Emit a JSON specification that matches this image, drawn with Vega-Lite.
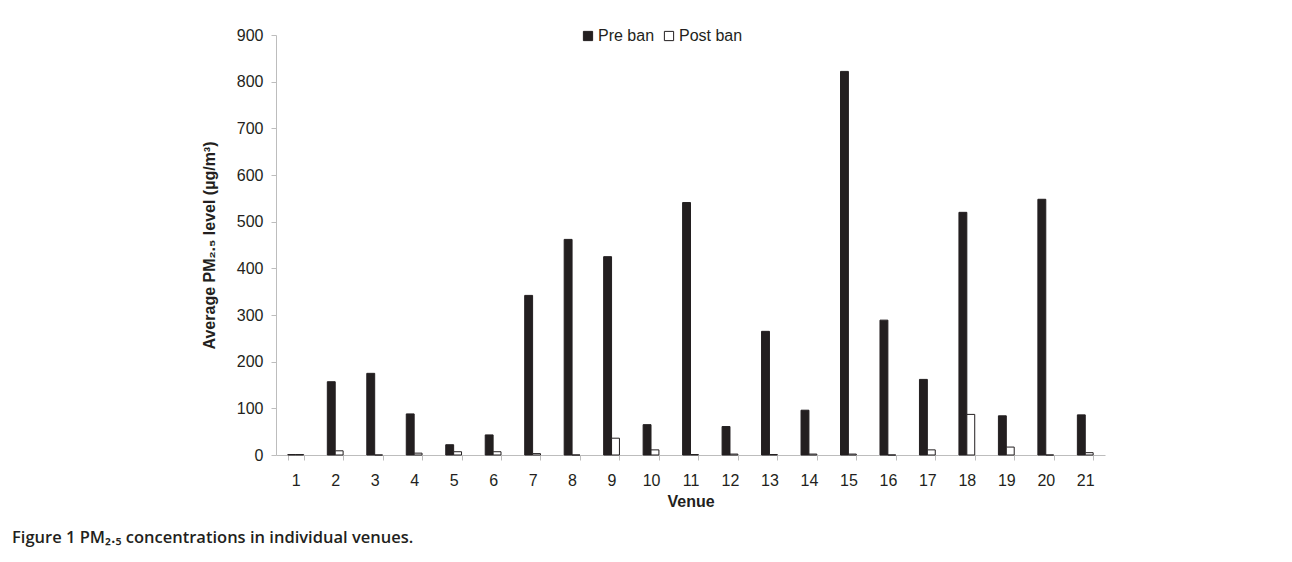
{
  "$schema": "https://vega.github.io/schema/vega-lite/v6.json",
  "width": 829,
  "height": 420,
  "autosize": {"type": "none"},
  "padding": {"left": 276, "top": 35, "right": 187, "bottom": 107},
  "background": "white",
  "title": {
    "text": "Figure 1 PM₂.₅ concentrations in individual venues.",
    "orient": "bottom",
    "anchor": "start",
    "frame": "group",
    "dx": -264,
    "offset": 21,
    "font": "Open Sans",
    "fontSize": 16.5,
    "fontWeight": 600,
    "color": "#231f20"
  },
  "data": {
    "values": [
      {"venue": 1, "period": "Pre ban", "value": 1},
      {"venue": 1, "period": "Post ban", "value": 1},
      {"venue": 2, "period": "Pre ban", "value": 157},
      {"venue": 2, "period": "Post ban", "value": 9},
      {"venue": 3, "period": "Pre ban", "value": 175},
      {"venue": 3, "period": "Post ban", "value": 0},
      {"venue": 4, "period": "Pre ban", "value": 88},
      {"venue": 4, "period": "Post ban", "value": 4},
      {"venue": 5, "period": "Pre ban", "value": 22},
      {"venue": 5, "period": "Post ban", "value": 7},
      {"venue": 6, "period": "Pre ban", "value": 43},
      {"venue": 6, "period": "Post ban", "value": 7},
      {"venue": 7, "period": "Pre ban", "value": 342},
      {"venue": 7, "period": "Post ban", "value": 3},
      {"venue": 8, "period": "Pre ban", "value": 462},
      {"venue": 8, "period": "Post ban", "value": 0},
      {"venue": 9, "period": "Pre ban", "value": 425},
      {"venue": 9, "period": "Post ban", "value": 36},
      {"venue": 10, "period": "Pre ban", "value": 65},
      {"venue": 10, "period": "Post ban", "value": 11},
      {"venue": 11, "period": "Pre ban", "value": 541},
      {"venue": 11, "period": "Post ban", "value": 1},
      {"venue": 12, "period": "Pre ban", "value": 61},
      {"venue": 12, "period": "Post ban", "value": 2},
      {"venue": 13, "period": "Pre ban", "value": 265},
      {"venue": 13, "period": "Post ban", "value": 1},
      {"venue": 14, "period": "Pre ban", "value": 96},
      {"venue": 14, "period": "Post ban", "value": 2},
      {"venue": 15, "period": "Pre ban", "value": 822},
      {"venue": 15, "period": "Post ban", "value": 2},
      {"venue": 16, "period": "Pre ban", "value": 289},
      {"venue": 16, "period": "Post ban", "value": 0},
      {"venue": 17, "period": "Pre ban", "value": 162},
      {"venue": 17, "period": "Post ban", "value": 11},
      {"venue": 18, "period": "Pre ban", "value": 520},
      {"venue": 18, "period": "Post ban", "value": 87},
      {"venue": 19, "period": "Pre ban", "value": 84},
      {"venue": 19, "period": "Post ban", "value": 17},
      {"venue": 20, "period": "Pre ban", "value": 548},
      {"venue": 20, "period": "Post ban", "value": 0},
      {"venue": 21, "period": "Pre ban", "value": 86},
      {"venue": 21, "period": "Post ban", "value": 5}
    ]
  },
  "mark": {"type": "bar", "stroke": "#231f20", "strokeWidth": 1},
  "encoding": {
    "x": {
      "field": "venue",
      "type": "ordinal",
      "title": "Venue",
      "scale": {"paddingInner": 0.6, "paddingOuter": 0.3},
      "axis": {
        "labelAngle": 0,
        "tickBand": "extent",
        "labelPadding": 12,
        "titlePadding": 5
      }
    },
    "xOffset": {
      "field": "period",
      "type": "nominal",
      "sort": ["Pre ban", "Post ban"]
    },
    "y": {
      "field": "value",
      "type": "quantitative",
      "title": "Average PM₂.₅ level (µg/m³)",
      "scale": {"domain": [0, 900]},
      "axis": {"values": [0, 100, 200, 300, 400, 500, 600, 700, 800, 900], "grid": false, "labelPadding": 8, "titlePadding": 19}
    },
    "fill": {
      "field": "period",
      "type": "nominal",
      "sort": ["Pre ban", "Post ban"],
      "scale": {"domain": ["Pre ban", "Post ban"], "range": ["#231f20", "#ffffff"]},
      "legend": {
        "title": null,
        "orient": "none",
        "legendX": 304,
        "legendY": -7,
        "direction": "horizontal",
        "symbolType": "square",
        "symbolSize": 85,
        "symbolStrokeColor": "#231f20",
        "symbolStrokeWidth": 1,
        "labelFontSize": 16,
        "labelOffset": 2,
        "columnPadding": 6
      }
    }
  },
  "config": {
    "font": "Liberation Sans",
    "view": {"stroke": null},
    "axis": {
      "domainColor": "#bdbdbd",
      "tickColor": "#bdbdbd",
      "tickSize": 5,
      "labelColor": "#231f20",
      "titleColor": "#231f20",
      "labelFont": "Liberation Sans",
      "labelFontSize": 16,
      "titleFont": "Liberation Sans",
      "titleFontSize": 16,
      "titleFontWeight": "bold"
    },
    "legend": {"labelFont": "Liberation Sans", "labelColor": "#231f20"}
  }
}
